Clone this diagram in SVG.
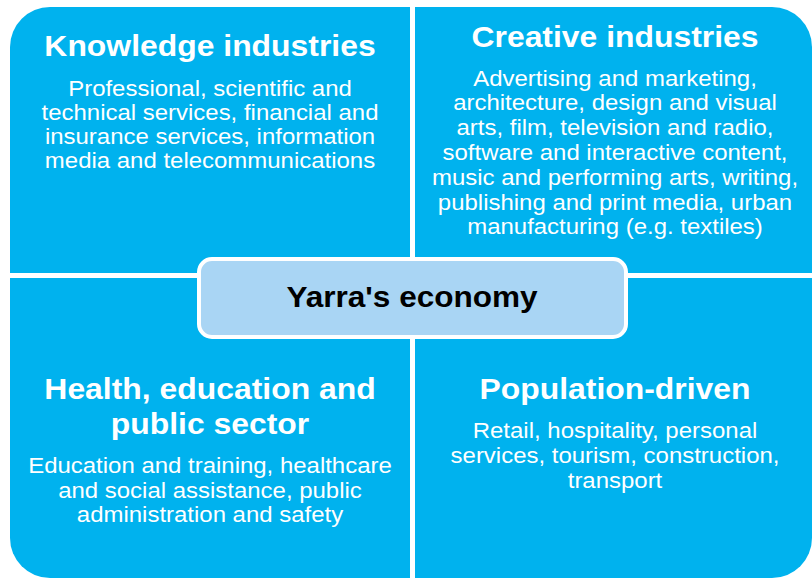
<svg xmlns="http://www.w3.org/2000/svg" width="812" height="578" viewBox="0 0 812 578">
<style>
.q{fill:#00B2EE}
.t{font-family:"Liberation Sans",Arial,sans-serif;font-weight:bold;font-size:29.8px;fill:#fff;text-anchor:middle}
.b{font-family:"Liberation Sans",Arial,sans-serif;font-size:22.4px;fill:#fff;text-anchor:middle}
.c{font-family:"Liberation Sans",Arial,sans-serif;font-weight:bold;font-size:29.5px;fill:#000;text-anchor:middle}
</style>
<rect width="812" height="578" fill="#fff"/>
<g id="knowledge">
<path class="q" d="M10 47 A40 40 0 0 1 50 7 H410 V273 H10 Z"/>
<g transform="translate(210 0) scale(1.07 1)">
<text class="t" x="0" y="55.7">Knowledge industries</text>
<text class="b" y="96"><tspan x="0">Professional, scientific and</tspan><tspan x="0" dy="24.1">technical services, financial and</tspan><tspan x="0" dy="24.1">insurance services, information</tspan><tspan x="0" dy="24.1">media and telecommunications</tspan></text>
</g>
</g>
<g id="creative">
<path class="q" d="M415 7 H772 A40 40 0 0 1 812 47 V273 H415 Z"/>
<g transform="translate(615 0) scale(1.07 1)">
<text class="t" x="0" y="46.7">Creative industries</text>
<text class="b" y="85.7"><tspan x="0">Advertising and marketing,</tspan><tspan x="0" dy="24.8">architecture, design and visual</tspan><tspan x="0" dy="24.8">arts, film, television and radio,</tspan><tspan x="0" dy="24.8">software and interactive content,</tspan><tspan x="0" dy="24.8">music and performing arts, writing,</tspan><tspan x="0" dy="24.8">publishing and print media, urban</tspan><tspan x="0" dy="24.8">manufacturing (e.g. textiles)</tspan></text>
</g>
</g>
<g id="health">
<path class="q" d="M10 278 H410 V578 H50 A40 40 0 0 1 10 538 Z"/>
<g transform="translate(210 0) scale(1.07 1)">
<text class="t" y="399.5"><tspan x="0">Health, education and</tspan><tspan x="0" dy="34.5">public sector</tspan></text>
<text class="b" y="473"><tspan x="0">Education and training, healthcare</tspan><tspan x="0" dy="24.6">and social assistance, public</tspan><tspan x="0" dy="24.6">administration and safety</tspan></text>
</g>
</g>
<g id="population">
<path class="q" d="M415 278 H812 V538 A40 40 0 0 1 772 578 H415 Z"/>
<g transform="translate(615 0) scale(1.07 1)">
<text class="t" x="0" y="399.5">Population-driven</text>
<text class="b" y="438"><tspan x="0">Retail, hospitality, personal</tspan><tspan x="0" dy="24.8">services, tourism, construction,</tspan><tspan x="0" dy="24.8">transport</tspan></text>
</g>
</g>
<g id="center">
<rect x="199" y="259" width="427" height="78" rx="13" fill="#A9D5F4" stroke="#fff" stroke-width="4"/>
<g transform="translate(412 0) scale(1.07 1)">
<text class="c" x="0" y="307">Yarra's economy</text>
</g>
</g>
<g id="connectors"/>
</svg>
